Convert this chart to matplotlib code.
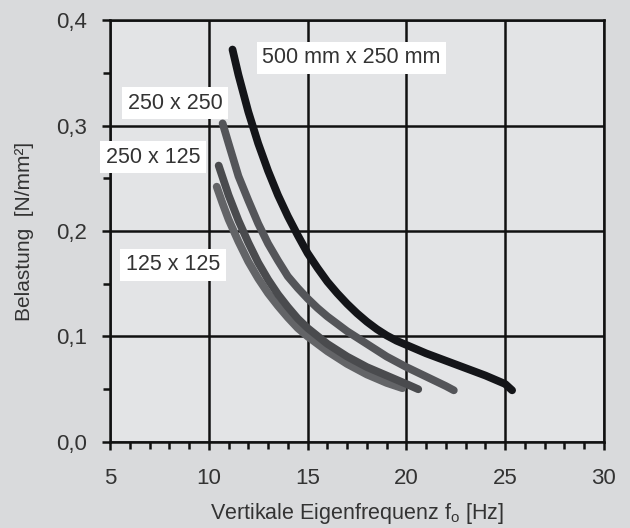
import matplotlib.pyplot as plt
from matplotlib.ticker import MultipleLocator

plt.rcParams['font.family'] = ['Liberation Sans', 'DejaVu Sans']
plt.rcParams['mathtext.fontset'] = 'custom'
plt.rcParams['mathtext.rm'] = 'Liberation Sans'

# Kurven
x_500x250 = [11.2, 11.5, 12, 12.5, 13, 13.5, 14, 14.5, 15, 15.5, 16, 16.5, 17, 17.5, 18, 18.5,
             19, 19.5, 20, 21, 22, 23, 24, 25, 25.35]
y_500x250 = [0.372, 0.348, 0.313, 0.283, 0.257, 0.234, 0.214, 0.196, 0.179, 0.165, 0.152, 0.141,
             0.131, 0.122, 0.114, 0.107, 0.101, 0.096, 0.092, 0.084, 0.077, 0.070, 0.063, 0.055, 0.049]

x_250x250 = [10.7, 11, 11.5, 12, 12.5, 13, 13.5, 14, 14.5, 15, 15.5, 16, 17, 18, 19, 20, 21, 22, 22.4]
y_250x250 = [0.302, 0.283, 0.252, 0.229, 0.207, 0.188, 0.172, 0.157, 0.146, 0.136, 0.127, 0.119,
             0.105, 0.093, 0.081, 0.071, 0.062, 0.053, 0.049]

x_250x125 = [10.5, 10.75, 11, 11.5, 12, 12.5, 13, 13.5, 14, 14.5, 15, 16, 17, 18, 19, 20, 20.6]
y_250x125 = [0.262, 0.248, 0.234, 0.210, 0.189, 0.170, 0.154, 0.140, 0.128, 0.117, 0.108, 0.093,
             0.081, 0.071, 0.063, 0.055, 0.050]

x_125x125 = [10.4, 10.7, 11, 11.5, 12, 12.5, 13, 13.5, 14, 14.5, 15, 16, 17, 18, 19, 19.8]
y_125x125 = [0.242, 0.226, 0.211, 0.190, 0.171, 0.155, 0.141, 0.129, 0.118, 0.108, 0.100, 0.086,
             0.074, 0.064, 0.056, 0.051]

y_ticks = [0.0, 0.1, 0.2, 0.3, 0.4]
y_ticklabels = ['0,0', '0,1', '0,2', '0,3', '0,4']
x_ticks = [5, 10, 15, 20, 25, 30]

fig = plt.figure(figsize=(6.3, 5.28), dpi=100, facecolor='#d9dadc')
ax = fig.add_axes([0.1746, 0.1629, 0.7841, 0.7992], facecolor='#e3e4e6')

kurven = [
    (x_125x125, y_125x125, '#636467'),
    (x_250x125, y_250x125, '#4a4b4e'),
    (x_250x250, y_250x250, '#545559'),
    (x_500x250, y_500x250, '#141519'),
]
for xs, ys, c in kurven:
    ax.plot(xs, ys, color=c, lw=5.6, solid_capstyle='round', solid_joinstyle='round', zorder=3)

ax.set_xlim(5, 30)
ax.set_ylim(0, 0.4)
ax.set_xticks(x_ticks)
ax.set_yticks(y_ticks)
ax.set_yticklabels(y_ticklabels)
ax.xaxis.set_minor_locator(MultipleLocator(1))
ax.yaxis.set_minor_locator(MultipleLocator(0.05))
ax.tick_params(which='major', direction='out', length=5.5, width=1.8, labelsize=16,
               colors='#111111', labelcolor='#333333')
ax.tick_params(axis='y', which='major', pad=11)
ax.tick_params(axis='x', which='major', pad=13)
ax.tick_params(which='minor', direction='out', length=5, width=1.8, colors='#111111')
ax.grid(True, which='major', color='#111111', lw=1.8)
ax.set_axisbelow(True)
for s in ax.spines.values():
    s.set_color('#111111')
    s.set_linewidth(1.8)

ax.set_xlabel(r'Vertikale Eigenfrequenz f$_{\mathrm{o}}$ [Hz]', fontsize=15.5, color='#333333', labelpad=9)
ax.set_ylabel('Belastung  [N/mm²]', fontsize=15, color='#333333', labelpad=16)

box = dict(facecolor='white', edgecolor='none', pad=4)
ax.text(12.7, 0.364, '500 mm x 250 mm', fontsize=15.5, color='#333333', va='center', bbox=box, zorder=4)
ax.text(5.9, 0.321, '250 x 250', fontsize=15.5, color='#333333', va='center', bbox=box, zorder=4, clip_on=False)
ax.text(4.8, 0.270, '250 x 125', fontsize=15.5, color='#333333', va='center', bbox=box, zorder=4, clip_on=False)
ax.text(5.8, 0.168, '125 x 125', fontsize=15.5, color='#333333', va='center', bbox=box, zorder=4, clip_on=False)

fig.savefig('out.png', dpi=100, facecolor=fig.get_facecolor())
